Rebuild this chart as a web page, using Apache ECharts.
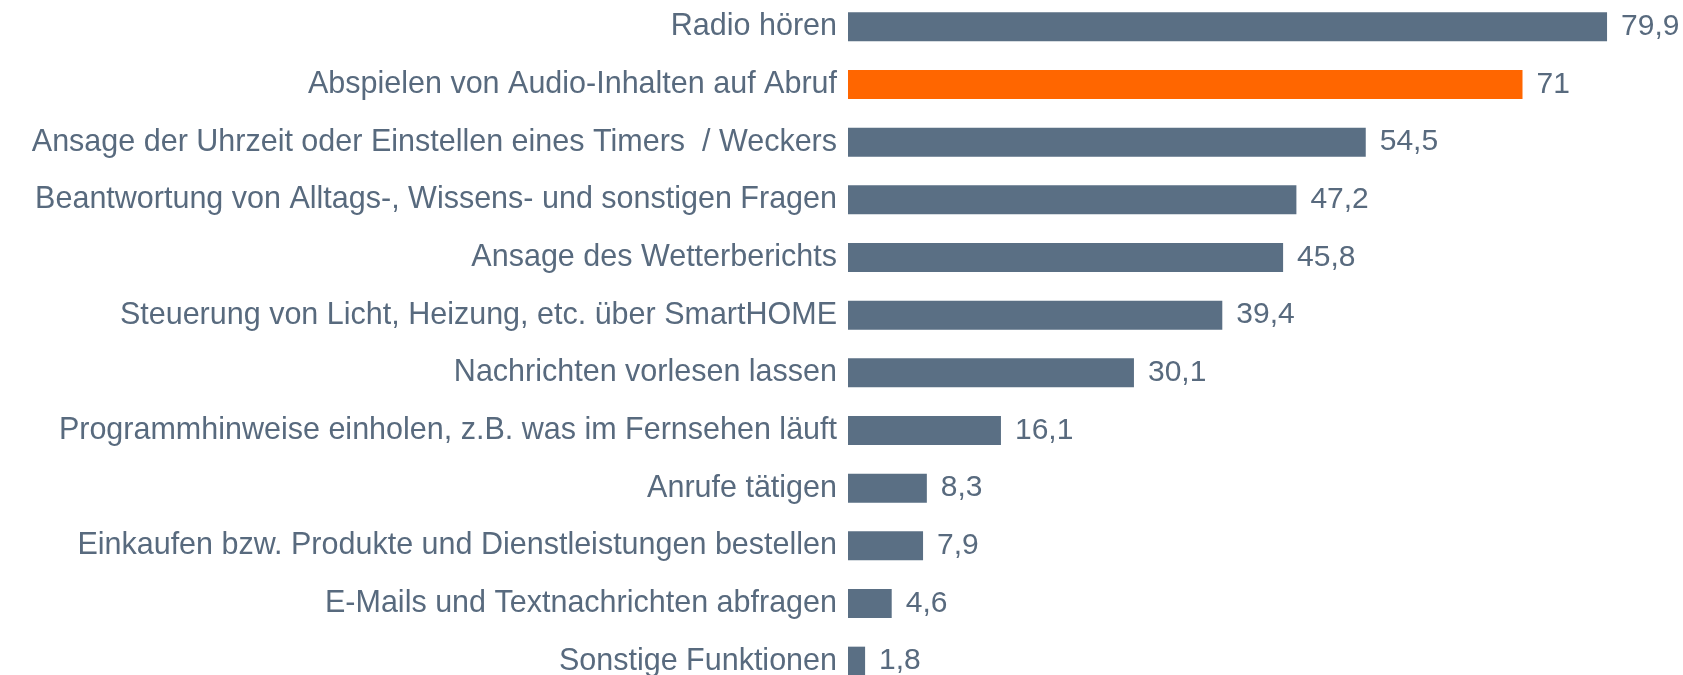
<!DOCTYPE html>
<html>
<head>
<meta charset="utf-8">
<script src="https://cdn.jsdelivr.net/npm/echarts@6/dist/echarts.min.js"></script>
<style>
  html, body { margin: 0; padding: 0; background: #fff; }
  #chart { width: 1683px; height: 675px; }
</style>
</head>
<body>
<div id="chart"></div>
<script>
var categories = [
  'Radio hören',
  'Abspielen von Audio-Inhalten auf Abruf',
  'Ansage der Uhrzeit oder Einstellen eines Timers  / Weckers',
  'Beantwortung von Alltags-, Wissens- und sonstigen Fragen',
  'Ansage des Wetterberichts',
  'Steuerung von Licht, Heizung, etc. über SmartHOME',
  'Nachrichten vorlesen lassen',
  'Programmhinweise einholen, z.B. was im Fernsehen läuft',
  'Anrufe tätigen',
  'Einkaufen bzw. Produkte und Dienstleistungen bestellen',
  'E-Mails und Textnachrichten abfragen',
  'Sonstige Funktionen'
]
var values = [79.9, 71, 54.5, 47.2, 45.8, 39.4, 30.1, 16.1, 8.3, 7.9, 4.6, 1.8]
var highlightIndex = 1

var barColor = '#5a6f84'
var highlightColor = '#ff6600'
var textColor = '#586a7e'

var chart = echarts.init(document.getElementById('chart'))
chart.setOption({
  backgroundColor: '#fff',
  animation: false,
  grid: {
    left: 848,
    top: -2,
    width: 950,
    height: 692,
    outerBoundsMode: 'none',
    containLabel: false
  },
  xAxis: {
    type: 'value',
    min: 0,
    max: 100,
    show: false
  },
  yAxis: {
    type: 'category',
    inverse: true,
    data: categories,
    axisLine: { show: false },
    axisTick: { show: false },
    axisLabel: {
      margin: 11,
      color: textColor,
      fontSize: 30.5,
      fontFamily: 'Liberation Sans, Arial, sans-serif'
    }
  },
  series: [{
    type: 'bar',
    barWidth: 29,
    data: values.map(function (v, i) {
      return {
        value: v,
        itemStyle: { color: i === highlightIndex ? highlightColor : barColor }
      }
    }),
    label: {
      show: true,
      position: 'right',
      distance: 14,
      color: textColor,
      fontSize: 30,
      fontFamily: 'Liberation Sans, Arial, sans-serif',
      formatter: function (p) {
        return String(p.value).replace('.', ',')
      }
    }
  }]
})
</script>
</body>
</html>
